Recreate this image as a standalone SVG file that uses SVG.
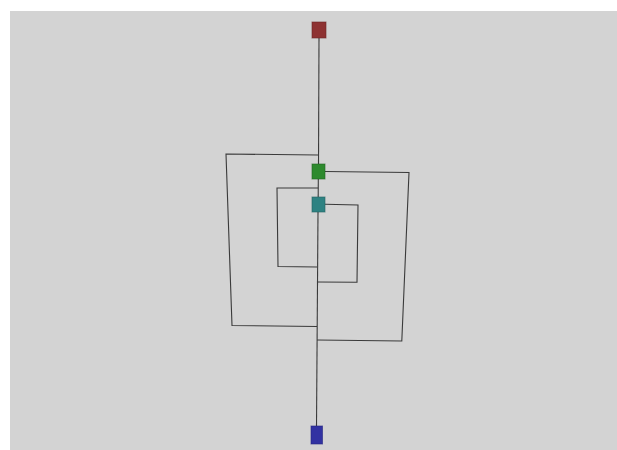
<svg xmlns="http://www.w3.org/2000/svg" width="617" height="450" viewBox="0 0 617 450">
<style>
.e{fill:none;stroke:#3a3a3a;stroke-width:1.1}
.n{stroke-width:1;stroke-opacity:0.6}
</style>
<rect x="0" y="0" width="617" height="450" fill="#ffffff"/>
<rect x="10" y="11" width="607" height="439" fill="#d3d3d3"/>
<g id="connectors">
<polyline class="e" points="319,38 318.5,164"/>
<polyline class="e" points="318.3,179 318.2,197"/>
<polyline class="e" points="318,212 316.5,426"/>
<polyline class="e" points="318,155 226,154 232,325.5 317,326.5"/>
<polyline class="e" points="325,171.5 409,172.5 401.8,341 317,340"/>
<polyline class="e" points="318,188 277,188 278,266.5 317,267"/>
<polyline class="e" points="325,204.3 358,205 357,282.3 317,282"/>
</g>
<g id="node-red"><rect class="n" x="312" y="22" width="14" height="16" fill="#8e3232" stroke="#6a2525"/></g>
<g id="node-green"><rect class="n" x="312" y="164" width="13" height="15" fill="#2e8a2e" stroke="#226622"/></g>
<g id="node-teal"><rect class="n" x="312" y="197" width="13" height="15" fill="#2e8282" stroke="#226262"/></g>
<g id="node-blue"><rect class="n" x="311" y="426" width="11.5" height="18" fill="#3232a2" stroke="#252580"/></g>
</svg>
